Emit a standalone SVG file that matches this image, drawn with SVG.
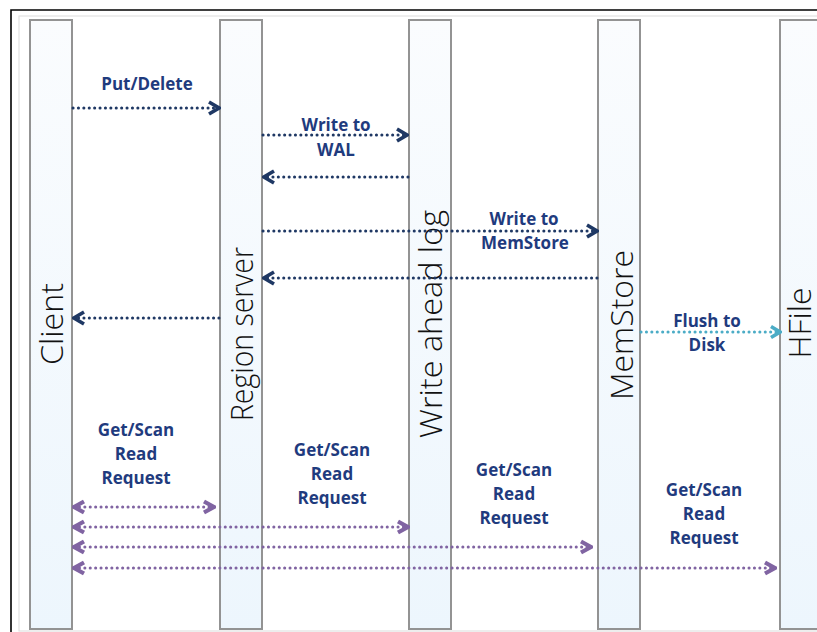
<svg xmlns="http://www.w3.org/2000/svg" width="817" height="632" viewBox="0 0 817 632">
  <style>
    .bar { stroke: #939393; stroke-width: 2; fill: url(#barFill); }
    .life { font-family: "Open Sans", "Liberation Sans", "DejaVu Sans", sans-serif; font-size: 31px; font-weight: 300; fill: #111; text-anchor: middle; }
    .lbl { font-family: "Open Sans", "Liberation Sans", "DejaVu Sans", sans-serif; font-size: 17px; font-weight: bold; fill: #1f3b7e; text-anchor: middle; }
    .msg { fill: none; stroke-width: 3; stroke-linecap: round; stroke-dasharray: 0.1 5.3; }
    .navy { stroke: #1f3864; }
    .teal { stroke: #4bacc6; }
    .violet { stroke: #8064a2; }
  </style>
  <defs>
    <linearGradient id="barFill" x1="0" y1="0" x2="0" y2="1">
      <stop offset="0" stop-color="#fafcfe"/>
      <stop offset="1" stop-color="#edf6fd"/>
    </linearGradient>
    <marker id="headNavy" markerUnits="userSpaceOnUse" viewBox="-12 -8 14 16" refX="0" refY="0" markerWidth="14" markerHeight="16" orient="auto-start-reverse">
      <path d="M-10,-6 L0,0 L-10,6" fill="none" stroke="#1f3864" stroke-width="3.6"/>
    </marker>
    <marker id="headTeal" markerUnits="userSpaceOnUse" viewBox="-12 -8 14 16" refX="0" refY="0" markerWidth="14" markerHeight="16" orient="auto-start-reverse">
      <path d="M-9,-5.5 L0,0 L-9,5.5" fill="none" stroke="#4bacc6" stroke-width="3.6"/>
    </marker>
    <marker id="headViolet" markerUnits="userSpaceOnUse" viewBox="-12 -8 14 16" refX="0" refY="0" markerWidth="14" markerHeight="16" orient="auto-start-reverse">
      <path d="M-10,-5.5 L0,0 L-10,5.5" fill="none" stroke="#8064a2" stroke-width="4.2"/>
    </marker>
  </defs>

  <!-- page frame -->
  <rect x="0" y="0" width="817" height="632" fill="#ffffff"/>
  <path d="M11,632 V10 H817" fill="none" stroke="#000" stroke-width="1.6"/>
  <rect x="19" y="16" width="820" height="615" fill="none" stroke="#e2e2e2" stroke-width="1.2"/>

  <!-- lifelines -->
  <g id="client">
    <rect class="bar" x="30" y="20" width="42" height="609"/>
    <text class="life" transform="translate(63,324) rotate(-90)" textLength="82" lengthAdjust="spacingAndGlyphs">Client</text>
  </g>
  <g id="region-server">
    <rect class="bar" x="220" y="20" width="42" height="609"/>
    <text class="life" transform="translate(253,334) rotate(-90)" textLength="174" lengthAdjust="spacingAndGlyphs">Region server</text>
  </g>
  <g id="write-ahead-log">
    <rect class="bar" x="409" y="20" width="42" height="609"/>
    <text class="life" transform="translate(441.5,324) rotate(-90)" textLength="228" lengthAdjust="spacingAndGlyphs">Write ahead log</text>
  </g>
  <g id="memstore">
    <rect class="bar" x="598" y="20" width="42" height="609"/>
    <text class="life" transform="translate(633,325) rotate(-90)" textLength="150" lengthAdjust="spacingAndGlyphs">MemStore</text>
  </g>
  <g id="hfile">
    <rect class="bar" x="780" y="20" width="42" height="609"/>
    <text class="life" transform="translate(811,323) rotate(-90)" textLength="71" lengthAdjust="spacingAndGlyphs">HFile</text>
  </g>

  <!-- messages -->
  <g id="connectors">
    <path class="msg navy" d="M73,108 H219" marker-end="url(#headNavy)"/>
    <path class="msg navy" d="M263,135 H407" marker-end="url(#headNavy)"/>
    <path class="msg navy" d="M408,177 H264" marker-end="url(#headNavy)"/>
    <path class="msg navy" d="M263,231 H597" marker-end="url(#headNavy)"/>
    <path class="msg navy" d="M597,278 H264" marker-end="url(#headNavy)"/>
    <path class="msg navy" d="M219,318 H74" marker-end="url(#headNavy)"/>
    <path class="msg teal" d="M641,332 H780" marker-end="url(#headTeal)"/>
    <path class="msg violet" d="M74,507 H214" marker-start="url(#headViolet)" marker-end="url(#headViolet)"/>
    <path class="msg violet" d="M74,527 H408" marker-start="url(#headViolet)" marker-end="url(#headViolet)"/>
    <path class="msg violet" d="M74,547 H591" marker-start="url(#headViolet)" marker-end="url(#headViolet)"/>
    <path class="msg violet" d="M74,568 H775" marker-start="url(#headViolet)" marker-end="url(#headViolet)"/>
  </g>

  <!-- message labels -->
  <g id="labels">
    <text class="lbl" x="147" y="90">Put/Delete</text>
    <text class="lbl" x="336" y="131">Write to</text>
    <text class="lbl" x="336" y="156">WAL</text>
    <text class="lbl" x="524" y="225">Write to</text>
    <text class="lbl" x="525" y="249">MemStore</text>
    <text class="lbl" x="707" y="327">Flush to</text>
    <text class="lbl" x="707" y="351">Disk</text>
    <text class="lbl" x="136" y="436">Get/Scan</text>
    <text class="lbl" x="136" y="460">Read</text>
    <text class="lbl" x="136" y="484">Request</text>
    <text class="lbl" x="332" y="456">Get/Scan</text>
    <text class="lbl" x="332" y="480">Read</text>
    <text class="lbl" x="332" y="504">Request</text>
    <text class="lbl" x="514" y="476">Get/Scan</text>
    <text class="lbl" x="514" y="500">Read</text>
    <text class="lbl" x="514" y="524">Request</text>
    <text class="lbl" x="704" y="496">Get/Scan</text>
    <text class="lbl" x="704" y="520">Read</text>
    <text class="lbl" x="704" y="544">Request</text>
  </g>
</svg>
